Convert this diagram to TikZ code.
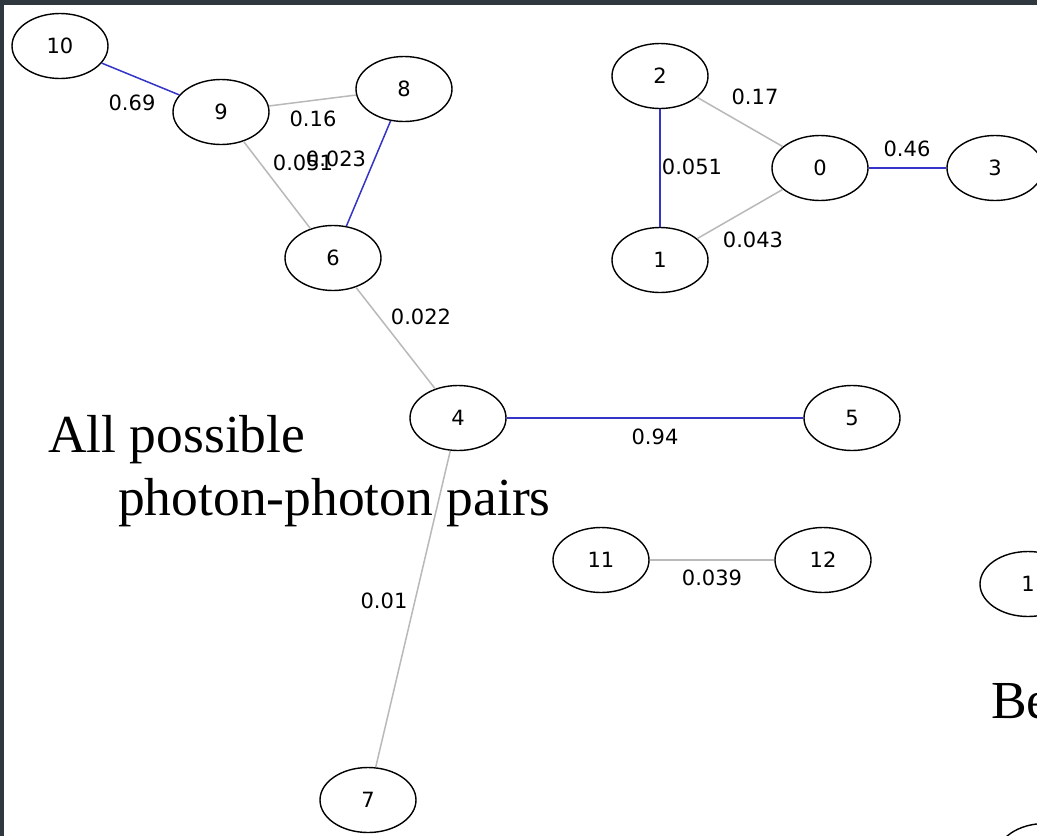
\documentclass[tikz,border=0pt]{standalone}
\usepackage{fontspec}
\setmainfont{Liberation Serif}
\newfontfamily\dejavu{DejaVu Sans}
\usetikzlibrary{shapes.geometric}
\definecolor{borderdark}{RGB}{47,56,62}
\definecolor{strongblue}{RGB}{52,52,200}
\definecolor{weakgray}{RGB}{185,185,185}
\begin{document}
\begin{tikzpicture}[x=1pt,y=-1pt,
 vertex/.style={ellipse, draw=black, line width=1.4pt, minimum width=96pt, minimum height=65pt, inner sep=0pt, font=\dejavu\fontsize{21}{21}\selectfont},
 strong/.style={draw=strongblue, line width=1.5pt},
 weak/.style={draw=weakgray, line width=1.5pt},
 wlabel/.style={font=\dejavu\fontsize{21}{21}\selectfont, inner sep=0pt},
 caption/.style={font=\fontsize{53.5}{60}\selectfont, inner sep=0pt, anchor=base west}]
\fill[borderdark] (0,0) rectangle (1037,836);
\fill[white] (4,5) rectangle (1037,836);
\useasboundingbox (0,0) rectangle (1037,836);
\clip (4,5) rectangle (1037,836);
% nodes
\node[vertex] (n10) at (60,46) {10};
\node[vertex] (n9) at (221,112) {9};
\node[vertex] (n8) at (404,89) {8};
\node[vertex] (n6) at (333,258) {6};
\node[vertex] (n2) at (660,76) {2};
\node[vertex] (n0) at (820,168) {0};
\node[vertex] (n3) at (995,168) {3};
\node[vertex] (n1) at (660,260) {1};
\node[vertex] (n4) at (458,418) {4};
\node[vertex] (n5) at (852,418) {5};
\node[vertex] (n11) at (601,560) {11};
\node[vertex] (n12) at (823,560) {12};
\node[vertex] (n7) at (368,800) {7};
\node[vertex] (nx) at (1028,584) {1};
\node[vertex] (ny) at (1045,856) {};
% edges
\draw[strong] (n10) -- (n9);
\draw[weak] (n9) -- (n8);
\draw[weak] (n9) -- (n6);
\draw[strong] (n8) -- (n6);
\draw[weak] (n6) -- (n4);
\draw[strong] (n4) -- (n5);
\draw[weak] (n4) -- (n7);
\draw[weak] (n11) -- (n12);
\draw[weak] (n2) -- (n0);
\draw[strong] (n2) -- (n1);
\draw[weak] (n1) -- (n0);
\draw[strong] (n0) -- (n3);
% edge labels
\node[wlabel] (l1) at (132,103) {0.69};
\node[wlabel] (l2) at (313,119) {0.16};
\node[wlabel] (l3) at (303,163) {0.051};
\node[wlabel] (l4) at (336,159) {0.023};
\node[wlabel] (l5) at (421,317) {0.022};
\node[wlabel] (l6) at (655,437) {0.94};
\node[wlabel] (l7) at (712,578) {0.039};
\node[wlabel] (l8) at (384,601) {0.01};
\node[wlabel] (l9) at (755,97) {0.17};
\node[wlabel] (l10) at (692,167) {0.051};
\node[wlabel] (l11) at (907,149) {0.46};
\node[wlabel] (l12) at (753,240) {0.043};
% captions
\node[caption] (c1) at (48,452) {All possible};
\node[caption] (c2) at (118,515) {photon-photon pairs};
\node[caption] (c3) at (991,718) {Be};
\end{tikzpicture}
\end{document}
